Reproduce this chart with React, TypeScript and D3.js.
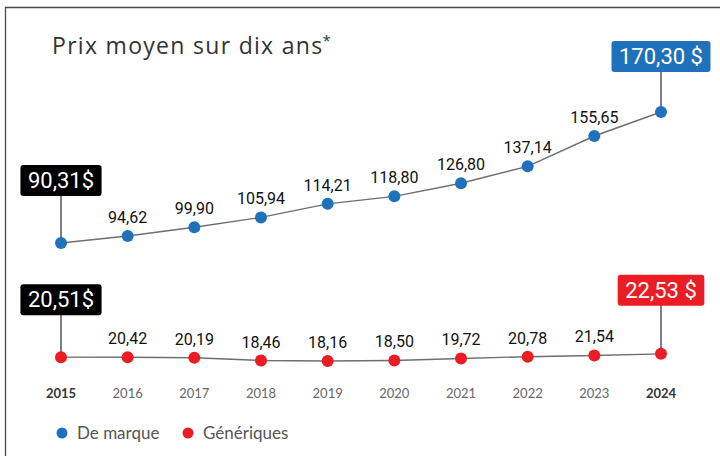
import { useEffect, useRef } from 'react';
import * as d3 from 'd3';

const years = ['2015', '2016', '2017', '2018', '2019', '2020', '2021', '2022', '2023', '2024'];
const brandPrices = [90.31, 94.62, 99.9, 105.94, 114.21, 118.8, 126.8, 137.14, 155.65, 170.3];
const genericPrices = [20.51, 20.42, 20.19, 18.46, 18.16, 18.5, 19.72, 20.78, 21.54, 22.53];
const seriesNames = ['De marque', 'Génériques'];
const title = 'Prix moyen sur dix ans';

const width = 720;
const height = 456;
const blue = '#1f71bb';
const red = '#ec1c24';
const lineColor = '#6e6e6e';

const fmt = (v: number) => v.toFixed(2).replace('.', ',');

const App = () => {
  const ref = useRef<SVGSVGElement | null>(null);

  useEffect(() => {
    if (!ref.current) return;
    const svg = d3.select(ref.current);
    svg.selectAll('*').remove();

    const x = d3.scalePoint<string>().domain(years).range([61, 661]);
    // same px per unit for both series, broken axis between them
    const yBrand = d3.scaleLinear().domain([90.31, 170.3]).range([243, 112]);
    const yGeneric = d3.scaleLinear().domain([18.16, 22.53]).range([361, 353.85]);

    // frame
    svg
      .append('path')
      .attr('d', `M5.5,${height} V7.5 H${width}`)
      .attr('fill', 'none')
      .attr('stroke', '#4a4a4a')
      .attr('stroke-width', 1.3);

    // title
    svg
      .append('text')
      .attr('x', 52)
      .attr('y', 54)
      .attr('font-family', '"Open Sans", sans-serif')
      .attr('font-size', 23)
      .attr('letter-spacing', 1.3)
      .attr('fill', '#333')
      .text(title)
      .append('tspan')
      .attr('dy', -8)
      .attr('dx', -1)
      .attr('font-size', 15)
      .text('*');

    const drawSeries = (
      values: number[],
      y: d3.ScaleLinear<number, number>,
      color: string,
      firstBox: string,
      lastBox: string,
      offFirst: number,
      offLast: number,
    ) => {
      const I = d3.range(values.length);
      const line = d3
        .line<number>()
        .x(i => x(years[i]) as number)
        .y(i => y(values[i]));

      svg
        .append('path')
        .attr('fill', 'none')
        .attr('stroke', lineColor)
        .attr('stroke-width', 1.4)
        .attr('d', line(I));

      // value labels (not first/last)
      svg
        .append('g')
        .selectAll('text')
        .data(I.slice(1, -1))
        .join('text')
        .attr('x', i => x(years[i]) as number)
        .attr('y', i => y(values[i]) - 13)
        .attr('text-anchor', 'middle')
        .attr('font-family', 'Roboto, sans-serif')
        .attr('font-size', 16)
        .attr('fill', '#111')
        .text(i => fmt(values[i]));

      // callouts
      const callout = (i: number, label: string, fill: string, off: number) => {
        const px = x(years[i]) as number;
        const py = y(values[i]);
        const top = py - off;
        const g = svg.append('g');
        g.append('line')
          .attr('x1', px)
          .attr('x2', px)
          .attr('y1', top + 30)
          .attr('y2', py)
          .attr('stroke', '#555')
          .attr('stroke-width', 1.5);
        const rect = g.append('rect').attr('rx', 3).attr('fill', fill);
        const t = g
          .append('text')
          .attr('x', px)
          .attr('y', top + 23)
          .attr('text-anchor', 'middle')
          .attr('font-family', 'Roboto, sans-serif')
          .attr('font-size', 22)
          .attr('fill', '#fff')
          .text(label);
        const w = (t.node() as SVGTextElement).getComputedTextLength() + 15;
        rect
          .attr('x', px - w / 2)
          .attr('y', top)
          .attr('width', w)
          .attr('height', 31);
      };
      callout(0, firstBox, '#000', offFirst);
      callout(values.length - 1, lastBox, color, offLast);

      // dots
      svg
        .append('g')
        .selectAll('circle')
        .data(I)
        .join('circle')
        .attr('cx', i => x(years[i]) as number)
        .attr('cy', i => y(values[i]))
        .attr('r', 6)
        .attr('fill', color);
    };

    drawSeries(
      brandPrices,
      yBrand,
      blue,
      `${fmt(brandPrices[0])}$`,
      `${fmt(brandPrices[brandPrices.length - 1])} $`,
      78,
      71,
    );
    drawSeries(
      genericPrices,
      yGeneric,
      red,
      `${fmt(genericPrices[0])}$`,
      `${fmt(genericPrices[genericPrices.length - 1])} $`,
      73,
      79,
    );

    // year axis
    svg
      .append('g')
      .selectAll('text')
      .data(years)
      .join('text')
      .attr('x', d => x(d) as number)
      .attr('y', 398)
      .attr('text-anchor', 'middle')
      .attr('font-family', 'Lato, sans-serif')
      .attr('font-size', 13)
      .attr('font-weight', (d, i) => (i === 0 || i === years.length - 1 ? 700 : 400))
      .attr('fill', (d, i) => (i === 0 || i === years.length - 1 ? '#333' : '#666'))
      .text(d => d);

    // legend
    const legend = svg.append('g');
    const legendX = [62, 188];
    const colors = [blue, red];
    seriesNames.forEach((name, i) => {
      legend
        .append('circle')
        .attr('cx', legendX[i])
        .attr('cy', 433)
        .attr('r', 5.5)
        .attr('fill', colors[i]);
      legend
        .append('text')
        .attr('x', legendX[i] + 15)
        .attr('y', 438.5)
        .attr('font-family', 'Lato, sans-serif')
        .attr('font-size', 17)
        .attr('fill', '#555')
        .text(name);
    });
  }, []);

  return (
    <div style={{ position: 'absolute', left: 0, top: 0 }}>
      <svg ref={ref} width={width} height={height} style={{ display: 'block', background: '#fff' }} />
    </div>
  );
};

export default App;
